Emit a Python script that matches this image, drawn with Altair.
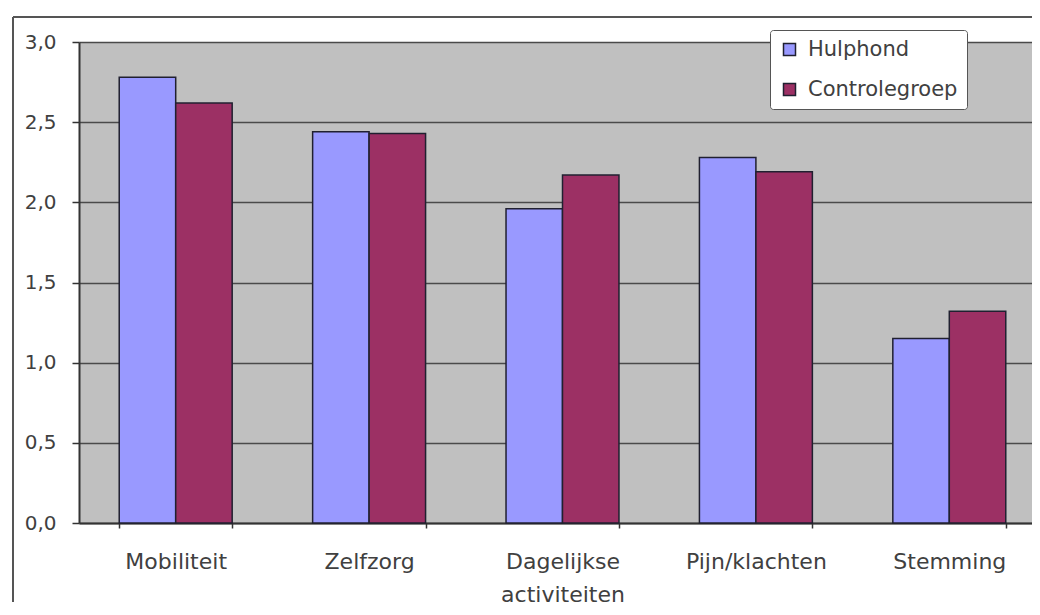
import altair as alt
import pandas as pd

categories = ["Mobiliteit", "Zelfzorg", "Dagelijkse activiteiten", "Pijn/klachten", "Stemming"]
hulphond = [2.78, 2.44, 1.96, 2.28, 1.15]
controlegroep = [2.62, 2.43, 2.17, 2.19, 1.32]
series = ["Hulphond", "Controlegroep"]
colors = ["#9999ff", "#9c3064"]
y_ticks = [0.0, 0.5, 1.0, 1.5, 2.0, 2.5, 3.0]

rows = []
for i, c in enumerate(categories):
    rows.append({"cat": c, "groep": series[0], "waarde": hulphond[i]})
    rows.append({"cat": c, "groep": series[1], "waarde": controlegroep[i]})
df = pd.DataFrame(rows)

FONT = "DejaVu Sans"
TXT = "#404040"

one = pd.DataFrame({"a": [0]})
frame_top = alt.Chart(one).mark_rule(stroke="#555555", strokeWidth=2).encode(
    x=alt.value(-66), x2=alt.value(953), y=alt.value(-25)
)
frame_left = alt.Chart(one).mark_rule(stroke="#555555", strokeWidth=2).encode(
    x=alt.value(-66), y=alt.value(-25), y2=alt.value(560)
)

bars = alt.Chart(df).mark_bar(stroke="#202030", strokeWidth=1.5).encode(
    x=alt.X(
        "cat:N",
        sort=categories,
        scale=alt.Scale(range=[0, 967], paddingInner=0.416, paddingOuter=0.208),
        axis=alt.Axis(
            title=None,
            labelAngle=0,
            tickBand="extent",
            grid=False,
            labelExpr="datum.label == 'Dagelijkse activiteiten' ? ['Dagelijkse', 'activiteiten'] : datum.label",
            labelFont=FONT,
            labelFontSize=22,
            labelColor=TXT,
            labelLineHeight=33,
            labelPadding=23,
            tickSize=5,
            tickWidth=1.5,
            tickColor="#333333",
            domainColor="#333333",
            domainWidth=2,
        ),
    ),
    xOffset=alt.XOffset("groep:N", sort=series, scale=alt.Scale(paddingInner=0, paddingOuter=0)),
    y=alt.Y(
        "waarde:Q",
        scale=alt.Scale(domain=[0, 3]),
        axis=alt.Axis(
            title=None,
            values=y_ticks,
            labelExpr="replace(format(datum.value, '.1f'), '.', ',')",
            labelFont=FONT,
            labelFontSize=20,
            labelColor=TXT,
            labelPadding=16,
            tickSize=7,
            tickWidth=1.5,
            tickColor="#333333",
            domainColor="#333333",
            domainWidth=2,
            grid=True,
            gridColor="#4a4a4a",
            gridWidth=1.5,
        ),
    ),
    color=alt.Color(
        "groep:N",
        sort=series,
        scale=alt.Scale(domain=series, range=colors),
        legend=alt.Legend(
            title=None,
            orient="none",
            legendX=691,
            legendY=-12,
            symbolType="square",
            symbolSize=144,
            symbolStrokeColor="#202030",
            symbolStrokeWidth=1.5,
            labelFont=FONT,
            labelFontSize=21,
            labelColor=TXT,
            labelOffset=8,
            fillColor="white",
            strokeColor="#555555",
            cornerRadius=3,
            padding=9,
            rowPadding=18,
        ),
    ),
)

chart = alt.layer(frame_top, frame_left, bars).properties(
    width=953,
    height=481,
    autosize=alt.AutoSizeParams(type="none"),
    padding={"left": 71, "top": 34, "right": 0, "bottom": 84},
    background="white",
).configure_view(fill="#c0c0c0", stroke="transparent")

chart.save("out.html", embed_options={"renderer": "svg", "actions": False})
